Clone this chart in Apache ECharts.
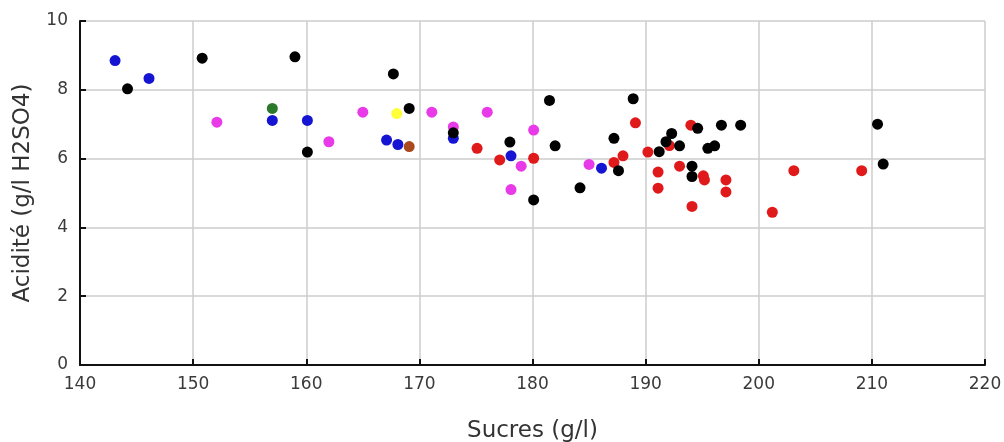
<!DOCTYPE html>
<html><head><meta charset="utf-8">
<script src="https://cdn.jsdelivr.net/npm/echarts@6/dist/echarts.min.js"></script>
<style>html,body{margin:0;padding:0;background:#fff}#c{width:1004px;height:442px}</style>
</head><body><div id="c"></div>
<script>
const xTicks = [140,150,160,170,180,190,200,210,220];
const yTicks = [0,2,4,6,8,10];
const bluePts = [[143.1,8.85],[146.1,8.33],[157.0,7.11],[160.1,7.11],[167.1,6.54],[168.1,6.41],[173.0,6.59],[178.1,6.08],[186.1,5.72]];
const blackPts = [[144.2,8.03],[150.8,8.92],[159.0,8.96],[160.1,6.19],[167.7,8.46],[169.1,7.46],[173.0,6.75],[178.0,6.48],[180.1,4.80],[181.5,7.69],[182.0,6.37],[184.2,5.15],[187.2,6.59],[187.6,5.65],[188.9,7.74],[191.2,6.20],[191.8,6.49],[192.3,6.73],[193.0,6.37],[194.1,5.78],[194.1,5.48],[194.6,6.88],[195.5,6.30],[196.1,6.37],[196.7,6.97],[198.4,6.97],[210.5,7.00],[211.0,5.84]];
const magentaPts = [[152.1,7.06],[162.0,6.49],[165.0,7.35],[171.1,7.35],[173.0,6.92],[176.0,7.35],[178.1,5.10],[179.0,5.78],[180.1,6.83],[185.0,5.83]];
const redPts = [[175.1,6.30],[177.1,5.96],[180.1,6.01],[187.2,5.89],[188.0,6.08],[189.1,7.04],[190.2,6.19],[191.1,5.61],[191.1,5.14],[192.1,6.38],[193.0,5.78],[194.0,6.97],[194.1,4.61],[195.1,5.50],[195.2,5.38],[197.1,5.38],[197.1,5.03],[201.2,4.44],[203.1,5.65],[209.1,5.65]];
const greenPts = [[157.0,7.46]];
const yellowPts = [[168.0,7.31]];
const brownPts = [[169.1,6.35]];

const font = '"DejaVu Sans", "Noto Sans", sans-serif';
function s(name, data, color){
  return {name, type:'scatter', data, symbolSize:11, itemStyle:{color, opacity:1}, emphasis:{disabled:true}};
}
const chart = echarts.init(document.getElementById('c'), null, {renderer:'canvas'});
chart.setOption({
  animation:false,
  backgroundColor:'#ffffff',
  grid:{left:80, right:19, top:21, bottom:77, containLabel:false, outerBoundsMode:'none'},
  xAxis:{type:'value', min:xTicks[0], max:xTicks[xTicks.length-1], interval:10,
    name:'Sucres (g/l)', nameLocation:'middle', nameGap:55,
    nameTextStyle:{fontFamily:font, fontSize:23, color:'#333'},
    axisLine:{show:true, onZero:false, lineStyle:{color:'#111', width:2}},
    axisTick:{show:true, inside:true, length:6, lineStyle:{color:'#111', width:2}},
    axisLabel:{fontFamily:font, fontSize:17, color:'#3a3a3a', margin:11},
    splitLine:{show:true, lineStyle:{color:'#cccccc', width:1.5}}},
  yAxis:{type:'value', min:yTicks[0], max:yTicks[yTicks.length-1], interval:2,
    name:'Acidité (g/l H2SO4)', nameLocation:'middle', nameGap:45,
    nameTextStyle:{fontFamily:font, fontSize:23, color:'#333'},
    axisLine:{show:true, onZero:false, lineStyle:{color:'#111', width:2}},
    axisTick:{show:true, inside:true, length:6, lineStyle:{color:'#111', width:2}},
    axisLabel:{fontFamily:font, fontSize:17, color:'#3a3a3a', margin:12},
    splitLine:{show:true, lineStyle:{color:'#cccccc', width:1.5}}},
  series:[
    s('rouge', redPts, '#e0191b'),
    s('magenta', magentaPts, '#e83ae8'),
    s('bleu', bluePts, '#1414d2'),
    s('vert', greenPts, '#2b7a2b'),
    s('jaune', yellowPts, '#ffff3a'),
    s('brun', brownPts, '#a8491f'),
    s('noir', blackPts, '#000000')
  ]
});
</script></body></html>
